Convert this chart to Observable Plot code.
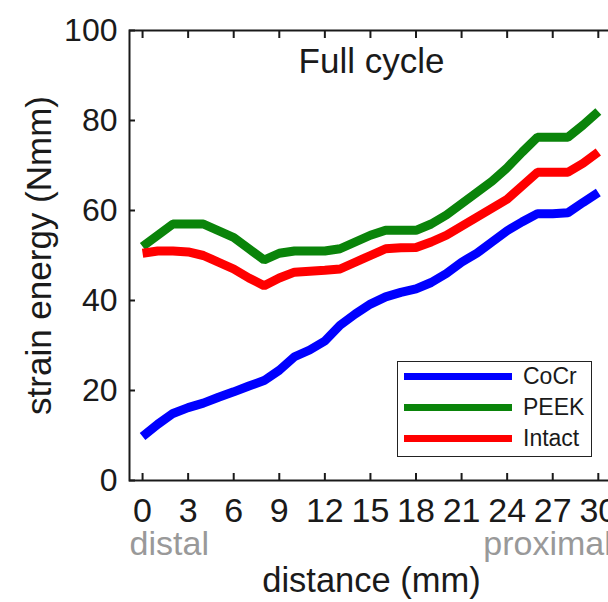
<!DOCTYPE html>
<html><head><meta charset="utf-8">
<script src="https://cdn.jsdelivr.net/npm/d3@7"></script>
<script src="https://cdn.jsdelivr.net/npm/@observablehq/plot@0.6"></script>
<style>
html,body{margin:0;padding:0;background:#fff;overflow:hidden;width:608px;height:602px}
#wrap{position:relative;width:608px;height:602px;overflow:hidden}
#chart svg{max-width:none !important;width:620px !important;height:602px !important;display:block}
#legend{position:absolute;left:397px;top:361px;width:193px;height:94px;border:1.5px solid #222;background:#fff;font-family:"Liberation Sans",Arial,sans-serif;font-size:23px;color:#1a1a1a}
.item{position:absolute;left:0;height:30px;width:193px}
.item .sw{position:absolute;left:6px;top:11px;width:108px;height:7px}
.item .lb{position:absolute;left:125px;top:1px;line-height:26px}
</style>
</head><body>
<div id="wrap"><div id="chart"></div><div id="legend"></div></div>
<script>
const distance = [0,1,2,3,4,5,6,7,8,9,10,11,12,13,14,15,16,17,18,19,20,21,22,23,24,25,26,27,28,29,30];
const cocr   = [9.8,12.5,14.9,16.2,17.2,18.5,19.7,21,22.2,24.5,27.5,29,31,34.5,37,39.2,40.8,41.8,42.6,44,46,48.5,50.5,53,55.5,57.5,59.3,59.3,59.5,61.8,64];
const peek   = [52,54.5,57,57,57,55.5,54,51.5,49,50.5,51,51,51,51.5,53,54.5,55.6,55.6,55.6,57,59,61.5,64,66.5,69.5,73,76.3,76.3,76.3,79,82];
const intact = [50.5,51,51,50.8,50,48.5,47,45,43.3,45,46.3,46.5,46.7,47,48.5,50,51.5,51.7,51.8,53,54.5,56.5,58.5,60.5,62.5,65.5,68.5,68.5,68.5,70.5,73];
const seriesNames = ["CoCr","PEEK","Intact"];
const seriesColors = ["#0000ff","#0a840a","#ff0000"];
const xTicks = [0,3,6,9,12,15,18,21,24,27,30];
const yTicks = [0,20,40,60,80,100];
const endNames = ["distal","proximal"];
const endPositions = [0,30];
const title = "Full cycle";
const xLabel = "distance (mm)";
const yLabel = "strain energy (Nmm)";

const valuesBySeries = [cocr, peek, intact];
const data = [];
seriesNames.forEach((s, i) => distance.forEach((d, j) => data.push({series: s, distance: d, value: valuesBySeries[i][j]})));

const font = "Liberation Sans, Arial, sans-serif";
const ink = "#1a1a1a";
const chart = Plot.plot({
  width: 620, height: 602,
  marginLeft: 129, marginRight: 7, marginTop: 30, marginBottom: 122,
  x: {domain: [-0.86, 31]},
  y: {domain: [0, 100]},
  color: {domain: seriesNames, range: seriesColors},
  style: {fontFamily: font, color: ink, background: "#fff", overflow: "visible", maxWidth: "none"},
  marks: [
    ...seriesNames.map(s => Plot.line(data.filter(d => d.series === s), {x: "distance", y: "value", stroke: "series", strokeWidth: 9, strokeLinecap: "butt", strokeLinejoin: "miter"})),
    Plot.axisX({anchor: "bottom", ticks: xTicks, tickSize: 0, tickPadding: 17, fontSize: 34, label: null}),
    Plot.axisX({anchor: "bottom", ticks: xTicks, tickSize: -7, strokeWidth: 2, text: null, label: null}),
    Plot.axisX({anchor: "top", ticks: xTicks, tickSize: -7, strokeWidth: 2, text: null, label: null}),
    Plot.axisY({anchor: "left", ticks: yTicks, tickSize: 0, tickPadding: 12, fontSize: 32, label: null}),
    Plot.axisY({anchor: "left", ticks: yTicks, tickSize: -6, strokeWidth: 2, text: null, label: null}),
    Plot.axisY({anchor: "right", ticks: yTicks, tickSize: -6, strokeWidth: 2, text: null, label: null}),
    Plot.frame({stroke: ink, strokeWidth: 2}),
    Plot.text([title], {text: d => d, frameAnchor: "top", dy: 31, fontSize: 35, lineAnchor: "middle", fill: ink}),
    Plot.text([xLabel], {text: d => d, frameAnchor: "bottom", dy: 100, fontSize: 34.5, lineAnchor: "middle", fill: ink}),
    Plot.text([yLabel], {text: d => d, frameAnchor: "left", dx: -90, rotate: -90, textAnchor: "middle", fontSize: 35, lineAnchor: "middle", fill: ink}),
    Plot.text([0], {x: i => endPositions[i], text: i => endNames[i], frameAnchor: "bottom", dy: 64, dx: -13, textAnchor: "start", fontSize: 34, lineAnchor: "middle", fill: "#999"}),
    Plot.text([1], {x: i => endPositions[i], text: i => endNames[i], frameAnchor: "bottom", dy: 64, dx: -115, textAnchor: "start", fontSize: 34, lineAnchor: "middle", fill: "#999"})
  ]
});
document.getElementById("chart").appendChild(chart);

const legend = document.getElementById("legend");
seriesNames.forEach((s, i) => {
  const it = document.createElement("div");
  it.className = "item";
  it.style.top = (i * 31) + "px";
  const sw = document.createElement("div");
  sw.className = "sw";
  sw.style.background = seriesColors[i];
  const lb = document.createElement("div");
  lb.className = "lb";
  lb.textContent = s;
  it.appendChild(sw); it.appendChild(lb);
  legend.appendChild(it);
});
</script>
</body></html>
